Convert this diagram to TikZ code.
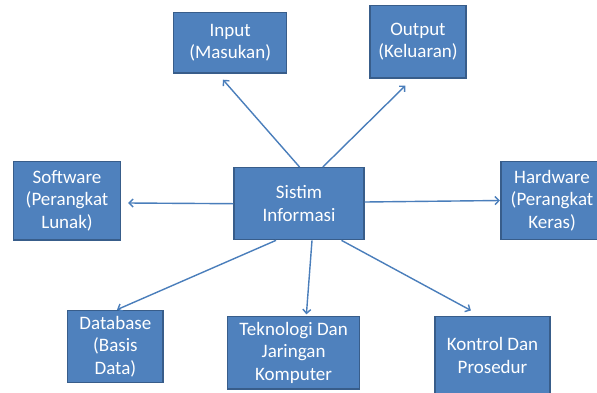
\documentclass[tikz,border=0pt]{standalone}
\usepackage{fontspec}
\setmainfont{Carlito}
\usetikzlibrary{arrows.meta}
\definecolor{boxfill}{HTML}{4F81BD}
\definecolor{boxline}{HTML}{385D8A}
\definecolor{arrcol}{HTML}{4A7EBB}
\begin{document}
\begin{tikzpicture}[x=1pt,y=-1pt,
  box/.style={draw=boxline, line width=1.3pt, fill=boxfill, text=white, align=center,
    inner sep=0pt, font=\fontsize{19}{22.5}\selectfont},
  arr/.style={draw=arrcol, line width=1.4pt, -{Straight Barb[length=4pt,width=8pt]}}]
\clip (0,0) rectangle (597,392);
\fill[white] (0,0) rectangle (597,392);
\node[box, minimum width=113pt, minimum height=60.7pt] (inp) at (230.2,42.7) {Input\\(Masukan)};
\node[box, minimum width=96pt, minimum height=72.3pt] (out) at (418,41.8) {Output\\(Keluaran)};
\node[box, minimum width=130pt, minimum height=72pt] (sis) at (299,203.7) {Sistim\\Informasi};
\node[box, minimum width=107.4pt, minimum height=78.7pt] (sw) at (67,200.7) {Software\\(Perangkat\\Lunak)};
\node[box, minimum width=102pt, minimum height=78.4pt] (hw) at (552,200.5) {Hardware\\(Perangkat\\Keras)};
\node[box, minimum width=95.2pt, minimum height=72pt] (db) at (115.4,346.3) {Database\\(Basis\\Data)};
\node[box, minimum width=132pt, minimum height=72.3pt] (tek) at (293.6,352.8) {Teknologi Dan\\Jaringan\\Komputer};
\node[box, minimum width=115pt, minimum height=77pt] (kon) at (492.5,355.3) {Kontrol Dan\\Prosedur};
\draw[arr] ([xshift=0.6pt]sis.north) -- ([xshift=-7.2pt,yshift=-6pt]inp.south);
\draw[arr] ([xshift=23.8pt]sis.north) -- ([xshift=-12.6pt,yshift=-7pt]out.south);
\draw[arr] (sis.west) -- ([xshift=6.8pt,yshift=-2.3pt]sw.east);
\draw[arr] ([yshift=1.7pt]sis.east) -- ([xshift=-0.4pt]hw.west);
\draw[arr] ([xshift=-23pt]sis.south) -- ([xshift=1.6pt]db.north);
\draw[arr] ([xshift=13pt]sis.south) -- ([xshift=12.8pt,yshift=1.7pt]tek.north);
\draw[arr] ([xshift=42.5pt]sis.south) -- ([xshift=-21.6pt,yshift=5.7pt]kon.north);
\end{tikzpicture}
\end{document}
